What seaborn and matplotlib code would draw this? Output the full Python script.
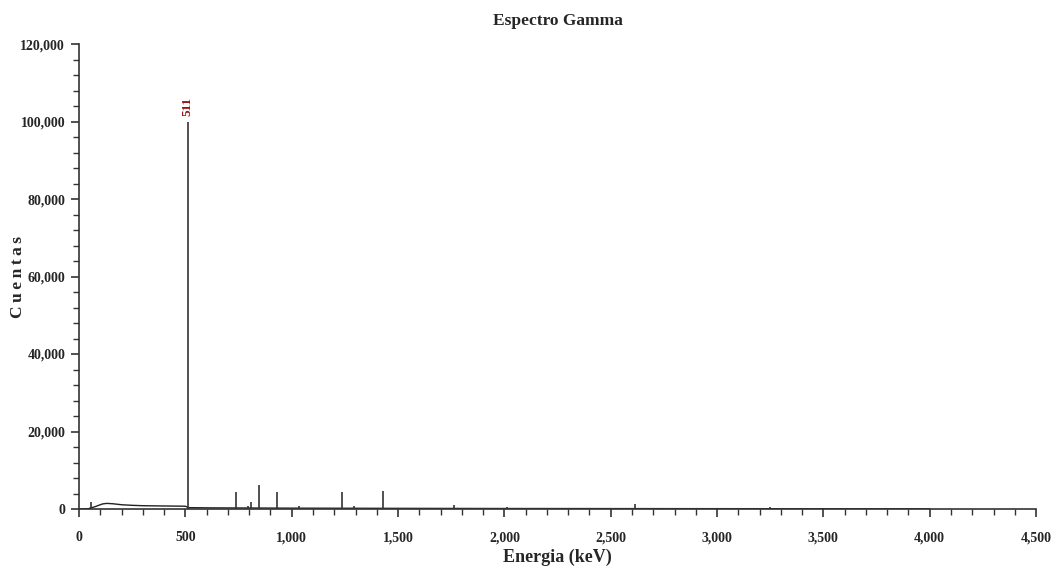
import numpy as np
import pandas as pd
import matplotlib
matplotlib.use("Agg")
import matplotlib.pyplot as plt
from matplotlib.ticker import MultipleLocator, FuncFormatter
import seaborn as sns

# Continuum (keV, counts)
cont_energy = [0, 45, 55, 70, 90, 110, 130, 160, 200, 250, 300, 400, 500, 515, 600, 800, 1000, 1500, 2000, 2500, 3000, 3500, 4000]
cont_counts = [0, 100, 300, 500, 900, 1300, 1450, 1350, 1100, 950, 850, 780, 720, 350, 300, 260, 220, 170, 130, 110, 90, 70, 50]

# Photopeaks (keV, counts)
peak_energy = [55, 511, 738, 795, 809, 845, 932, 1036, 1236, 1292, 1431, 1765, 2010, 2614, 3250]
peak_counts = [1800, 100000, 4500, 900, 1800, 6200, 4500, 800, 4400, 900, 4600, 1000, 500, 1300, 500]

label_energy = [511]
label_text = ["511"]

sns.set_theme(style="ticks")
plt.rcParams['font.family'] = ['Liberation Serif', 'DejaVu Serif']
plt.rcParams['font.weight'] = 'bold'

fig = plt.figure(figsize=(10.54, 5.66), dpi=100)
ax = fig.add_axes([0.075, 0.1007, 0.908, 0.8215])

df = pd.DataFrame({"Energia": cont_energy, "Cuentas": cont_counts})
sns.lineplot(data=df, x="Energia", y="Cuentas", ax=ax, color="#222222", linewidth=1.0)
ax.vlines(peak_energy, 0, peak_counts, colors="#333333", linewidths=1.2)

for e, t in zip(label_energy, label_text):
    h = peak_counts[peak_energy.index(e)]
    ax.text(e, h + 1500, t, rotation=90, ha="center", va="bottom",
            color="#a01010", fontsize=9.5, fontweight="bold")

ax.set_xlim(0, 4500)
ax.set_ylim(0, 120000)
ax.xaxis.set_major_locator(MultipleLocator(500))
ax.xaxis.set_minor_locator(MultipleLocator(100))
ax.yaxis.set_major_locator(MultipleLocator(20000))
ax.yaxis.set_minor_locator(MultipleLocator(4000))
fmt = FuncFormatter(lambda v, p: f"{int(v):,}")
ax.xaxis.set_major_formatter(fmt)
ax.yaxis.set_major_formatter(fmt)
ax.tick_params(axis="both", which="major", direction="out", length=6, width=1.2, labelsize=10, color="#333333")
ax.tick_params(axis="x", which="major", pad=10)
ax.tick_params(axis="y", which="major", pad=4)
ax.tick_params(axis="both", which="minor", direction="out", length=4, width=1.0, color="#333333")
for lab in ax.get_xticklabels() + ax.get_yticklabels():
    lab.set_fontweight("bold")

sns.despine(ax=ax)
for s in ["left", "bottom"]:
    ax.spines[s].set_linewidth(1.2)
    ax.spines[s].set_color("#333333")

ax.set_xlabel("Energia (keV)", fontsize=13, fontweight="bold", labelpad=3)
ax.set_ylabel("C\u2009u\u2009e\u2009n\u2009t\u2009a\u2009s", fontsize=12.5, fontweight="bold", va="center")
ax.yaxis.set_label_coords(-0.064, 0.5)
ax.set_title("Espectro Gamma", fontsize=12.5, fontweight="bold", pad=14)

fig.savefig("out.png", dpi=100)
